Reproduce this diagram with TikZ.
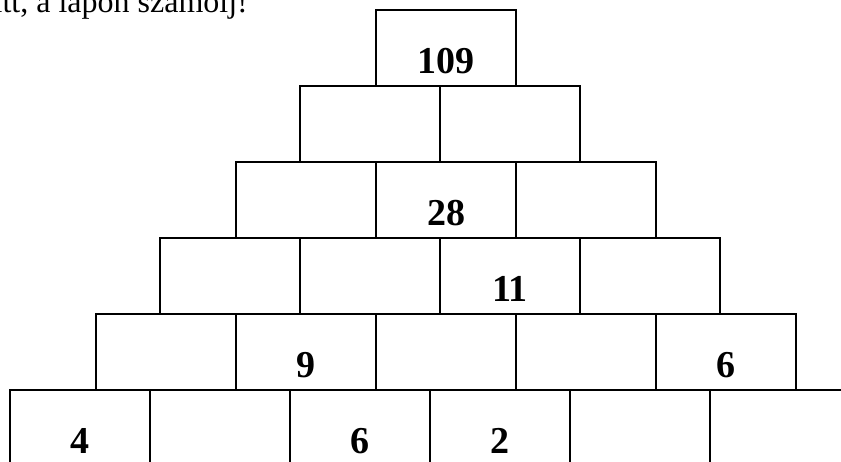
\documentclass[tikz,border=0pt]{standalone}
\usepackage{fontspec}
\setmainfont{Liberation Serif}
\usetikzlibrary{positioning}

\tikzset{
  brick/.style={draw, line width=1.6pt, minimum width=140pt, minimum height=76pt, inner sep=0pt},
  num/.style={font=\fontsize{38}{38}\selectfont\bfseries, anchor=base, inner sep=0pt}
}

\begin{document}
\begin{tikzpicture}[x=1pt, y=-1pt]
  \useasboundingbox (0,0) rectangle (841,461);
  \clip (0,0) rectangle (841,461);
  \node[anchor=base east, inner sep=0pt, font=\fontsize{32}{32}\selectfont] (cim) at (248,12) {itt, a lapon számolj!};
  % sorok: sorszam / bal szel / teglak szama
  \foreach \sor/\bal/\db in {1/376/1, 2/300/2, 3/236/3, 4/160/4, 5/96/5, 6/10/6}{
    \foreach \i in {1,...,\db}{
      \node[brick] (t\sor-\i) at ({\bal+140*(\i-1)+70}, {10+76*(\sor-1)+38}) {};
    }
  }
  % a megadott szamok
  \node[num] (n109) at ([yshift=13pt]t1-1.south) {109};
  \node[num] (n28)  at ([yshift=13pt]t3-2.south) {28};
  \node[num] (n11)  at ([yshift=13pt]t4-3.south) {11};
  \node[num] (n9)   at ([yshift=13pt]t5-2.south) {9};
  \node[num] (n6a)  at ([yshift=13pt]t5-5.south) {6};
  \node[num] (n4)   at ([yshift=13pt]t6-1.south) {4};
  \node[num] (n6b)  at ([yshift=13pt]t6-3.south) {6};
  \node[num] (n2)   at ([yshift=13pt]t6-4.south) {2};
\end{tikzpicture}
\end{document}
